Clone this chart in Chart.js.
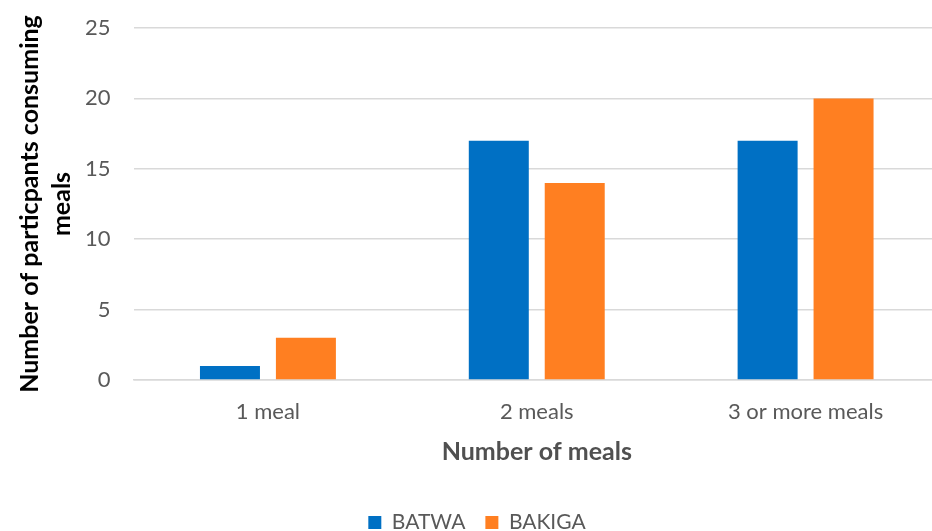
<!DOCTYPE html>
<html>
<head>
<meta charset="utf-8">
<script src="https://cdn.jsdelivr.net/npm/chart.js@4/dist/chart.umd.min.js"></script>
<style>
html,body{margin:0;padding:0;background:#fff;overflow:hidden;}
#wrap{width:940px;height:543px;}
</style>
</head>
<body>
<div id="wrap"><canvas id="c" width="940" height="543"></canvas></div>
<script>
const categories = ["1 meal", "2 meals", "3 or more meals"];
const batwa = [1, 17, 17];
const bakiga = [3, 14, 20];
const yTicks = [0, 5, 10, 15, 20, 25];

const FONT = "Lato, 'Open Sans', sans-serif";
new Chart(document.getElementById('c'), {
  type: 'bar',
  data: {
    labels: categories,
    datasets: [
      {label: 'BATWA', data: batwa, backgroundColor: '#0070C4', categoryPercentage: 0.565, barPercentage: 0.79},
      {label: 'BAKIGA', data: bakiga, backgroundColor: '#FF7F21', categoryPercentage: 0.565, barPercentage: 0.79}
    ]
  },
  options: {
    responsive: false,
    animation: false,
    layout: {padding: {top: 28, left: 14, right: 0, bottom: 0}},
    plugins: {
      legend: {
        position: 'bottom',
        labels: {font: {family: FONT, size: 21}, color: '#595959', boxWidth: 13, boxHeight: 13, padding: 20}
      },
      tooltip: {enabled: false}
    },
    scales: {
      x: {
        grid: {display: false, drawTicks: true, tickLength: 14.8},
        border: {color: '#D9D9D9', width: 1.5},
        ticks: {font: {family: FONT, size: 22}, color: '#595959', padding: 4},
        title: {display: true, text: 'Number of meals', font: {family: FONT, size: 25, weight: 'bold'}, color: '#505050', padding: {top: 7.8, bottom: 25}}
      },
      y: {
        min: 0, max: 25,
        afterBuildTicks: (s) => { s.ticks = yTicks.map(v => ({value: v})); },
        grid: {color: '#D9D9D9', lineWidth: 1.5, drawTicks: true, tickLength: 16, tickColor: 'rgba(0,0,0,0)'},
        border: {display: false},
        ticks: {font: {family: FONT, size: 22}, color: '#595959', padding: 7},
        title: {display: true, text: ['Number of particpants consuming', 'meals'], font: {family: FONT, size: 25, weight: 'bold', lineHeight: 1.28}, color: '#000', padding: {top: 0, bottom: 0}}
      }
    }
  }
});
</script>
</body>
</html>
